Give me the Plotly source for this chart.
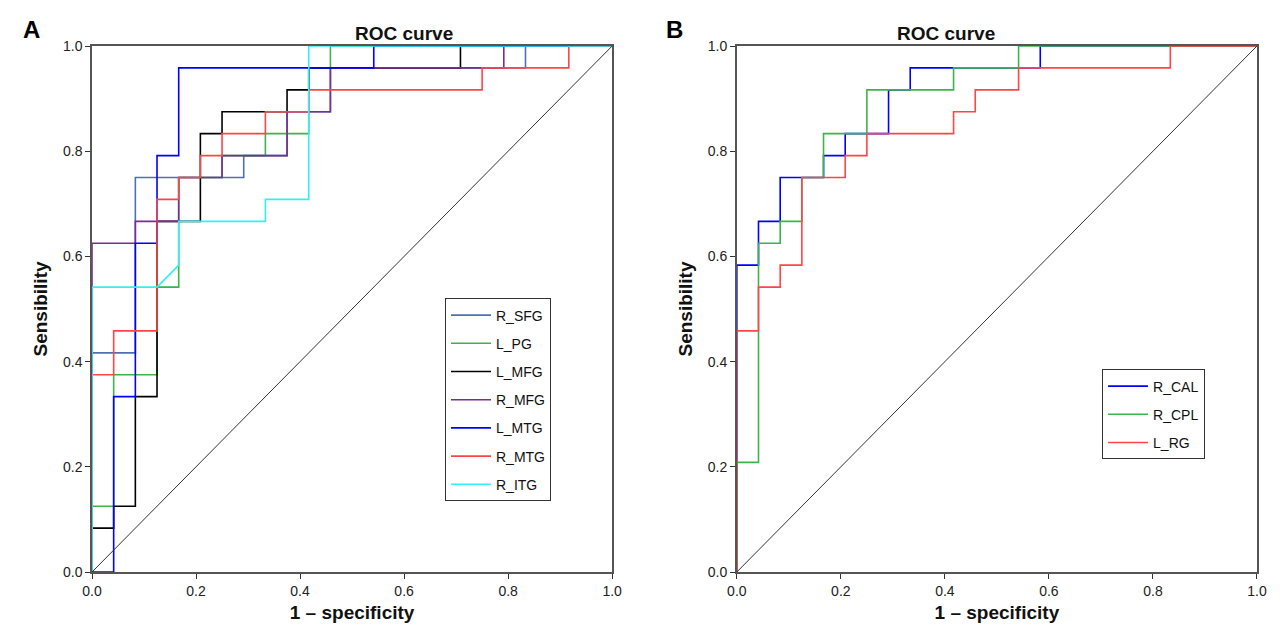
import plotly.graph_objects as go
from plotly.subplots import make_subplots

# ROC step points in units of 1/24 (24 negatives, 24 positives)
N = 24.0

names_a = ["R_SFG", "L_PG", "L_MFG", "R_MFG", "L_MTG", "R_MTG", "R_ITG"]
colors_a = ["#4f6fb5", "#3cb44b", "#000000", "#7b2d8e", "#0000ff", "#ff4545", "#33f0f0"]
fpr_a = [
    [0, 0, 2, 2, 7, 7, 9, 9, 11, 11, 20, 20, 24],
    [0, 0, 1, 1, 3, 3, 4, 4, 6, 6, 8, 8, 10, 10, 11, 11, 24],
    [0, 0, 1, 1, 2, 2, 3, 3, 5, 5, 6, 6, 9, 9, 10, 10, 17, 17, 24],
    [0, 0, 2, 2, 4, 4, 6, 6, 9, 9, 11, 11, 19, 19, 24],
    [0, 1, 1, 2, 2, 3, 3, 4, 4, 13, 13, 24],
    [0, 0, 1, 1, 3, 3, 4, 4, 5, 5, 6, 6, 8, 8, 10, 10, 18, 18, 22, 22, 24],
    [0, 0, 3, 4, 4, 8, 8, 10, 10, 24],
]
tpr_a = [
    [0, 10, 10, 18, 18, 19, 19, 21, 21, 23, 23, 24, 24],
    [0, 3, 3, 9, 9, 13, 13, 18, 18, 19, 19, 20, 20, 23, 23, 24, 24],
    [0, 2, 2, 3, 3, 8, 8, 16, 16, 20, 20, 21, 21, 22, 22, 23, 23, 24, 24],
    [0, 15, 15, 16, 16, 18, 18, 19, 19, 21, 21, 23, 23, 24, 24],
    [0, 0, 8, 8, 15, 15, 19, 19, 23, 23, 24, 24],
    [0, 9, 9, 11, 11, 17, 17, 18, 18, 19, 19, 20, 20, 21, 21, 22, 22, 23, 23, 24, 24],
    [0, 13, 13, 14, 16, 16, 17, 17, 24, 24],
]

names_b = ["R_CAL", "R_CPL", "L_RG"]
colors_b = ["#0000ff", "#3cb44b", "#ff4545"]
fpr_b = [
    [0, 0, 1, 1, 2, 2, 4, 4, 5, 5, 7, 7, 8, 8, 14, 14, 24],
    [0, 0, 1, 1, 2, 2, 3, 3, 4, 4, 6, 6, 10, 10, 13, 13, 24],
    [0, 0, 1, 1, 2, 2, 3, 3, 5, 5, 6, 6, 10, 10, 11, 11, 13, 13, 20, 20, 24],
]
tpr_b = [
    [0, 14, 14, 16, 16, 18, 18, 19, 19, 20, 20, 22, 22, 23, 23, 24, 24],
    [0, 5, 5, 15, 15, 16, 16, 18, 18, 20, 20, 22, 22, 23, 23, 24, 24],
    [0, 11, 11, 13, 13, 14, 14, 18, 18, 19, 19, 20, 20, 21, 21, 22, 22, 23, 23, 24, 24],
]

ticks = [0.0, 0.2, 0.4, 0.6, 0.8, 1.0]
tick_text = ["0.0", "0.2", "0.4", "0.6", "0.8", "1.0"]

fig = make_subplots(rows=1, cols=2, horizontal_spacing=0.107)

for name, c, xs, ys in zip(names_a, colors_a, fpr_a, tpr_a):
    fig.add_trace(go.Scatter(x=[v / N for v in xs], y=[v / N for v in ys], mode="lines",
                             name=name, legendgroup=name, line=dict(color=c, width=1.6),
                             legend="legend"), row=1, col=1)
for name, c, xs, ys in zip(names_b, colors_b, fpr_b, tpr_b):
    fig.add_trace(go.Scatter(x=[v / N for v in xs], y=[v / N for v in ys], mode="lines",
                             name=name, legendgroup=name, line=dict(color=c, width=1.6),
                             legend="legend2"), row=1, col=2)

# reference diagonals
for col in [1, 2]:
    fig.add_trace(go.Scatter(x=[0, 1], y=[0, 1], mode="lines", showlegend=False,
                             line=dict(color="#333333", width=1)), row=1, col=col)

axis_style = dict(range=[0, 1], tickvals=ticks, ticktext=tick_text, showgrid=False, zeroline=False,
                  showline=True, linecolor="#555555", linewidth=1.5, mirror=True,
                  ticks="outside", ticklen=5, tickcolor="#333333",
                  tickfont=dict(size=14, color="#222222"))
fig.update_xaxes(**axis_style)
fig.update_yaxes(**axis_style)
fig.update_xaxes(title=dict(text="<b>1 – specificity</b>", font=dict(size=19, color="#111111"), standoff=8))
fig.update_yaxes(title=dict(text="<b>Sensibility</b>", font=dict(size=19, color="#111111"), standoff=10))

legend_style = dict(bgcolor="white", bordercolor="#333333", borderwidth=1,
                    font=dict(size=14, color="#111111"), tracegroupgap=7, itemwidth=40,
                    xanchor="left", yanchor="top")
fig.update_layout(
    font=dict(family="Liberation Sans, Arial, sans-serif"),
    width=1283, height=637,
    margin=dict(l=84, r=34, t=38, b=73),
    plot_bgcolor="white", paper_bgcolor="white",
    legend=dict(x=0.303, y=0.52, **legend_style),
    legend2=dict(x=0.867, y=0.385, **legend_style),
    annotations=[
        dict(text="<b>ROC curve</b>", x=0.224, y=1.0, xref="paper", yref="paper", showarrow=False,
             yanchor="bottom", font=dict(size=19, color="#111111")),
        dict(text="<b>ROC curve</b>", x=0.777, y=1.0, xref="paper", yref="paper", showarrow=False,
             yanchor="bottom", font=dict(size=19, color="#111111")),
        dict(text="<b>A</b>", x=-0.061, y=1.06, xref="paper", yref="paper", showarrow=False,
             font=dict(size=24, color="#000000")),
        dict(text="<b>B</b>", x=0.5, y=1.06, xref="paper", yref="paper", showarrow=False,
             font=dict(size=24, color="#000000")),
    ],
)

fig.write_html("out.html")
